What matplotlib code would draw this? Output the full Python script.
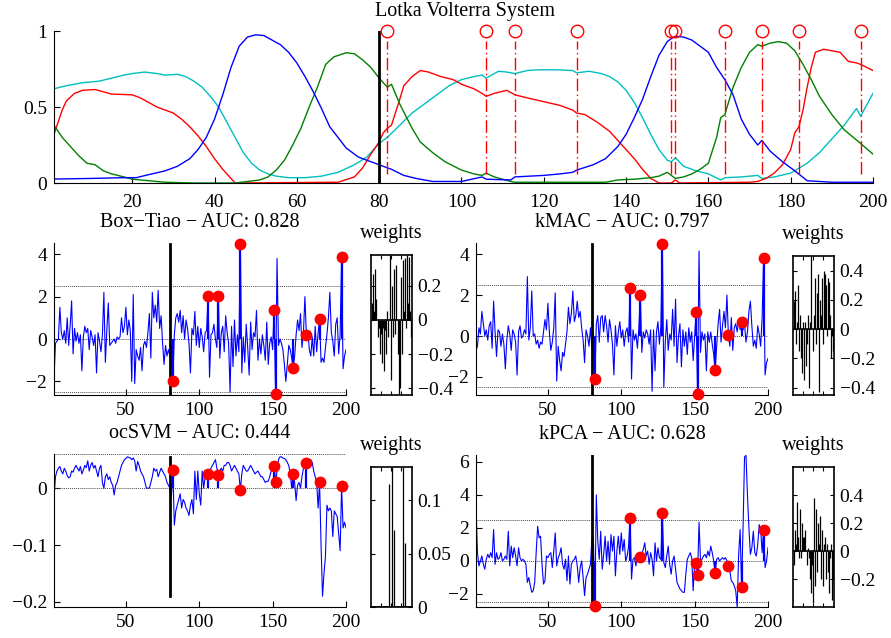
import numpy as np
import matplotlib
matplotlib.use('Agg')
import matplotlib.pyplot as plt
from matplotlib.ticker import FuncFormatter

plt.rcParams['font.family'] = ['Liberation Serif', 'DejaVu Serif']
plt.rcParams['font.size'] = 14

# --- Lotka Volterra system (knots) ---
blue_x = [1, 10, 18, 21, 24, 28, 31, 34, 36, 38, 40, 42, 44, 46, 48, 50, 52, 54, 56, 58, 60, 62, 64, 66, 68,
          70, 72, 75, 78, 80, 83, 86, 89, 93, 100, 105, 106, 112, 113, 120, 124, 127, 128, 132, 135, 138, 140,
          142, 144, 146, 148, 150, 151, 152, 154, 156, 158, 160, 162, 164, 166, 168, 170, 172, 173, 175, 178,
          181, 184, 190, 200]
blue_y = [0.026, 0.03, 0.035, 0.035, 0.055, 0.08, 0.11, 0.16, 0.22, 0.30, 0.42, 0.58, 0.76, 0.90, 0.96, 0.975,
          0.97, 0.94, 0.91, 0.86, 0.79, 0.70, 0.60, 0.49, 0.37, 0.30, 0.23, 0.17, 0.14, 0.12, 0.09, 0.05, 0.03,
          0.01, 0.01, 0.04, 0.025, 0.02, 0.04, 0.05, 0.06, 0.07, 0.085, 0.12, 0.16, 0.24, 0.32, 0.43, 0.55, 0.70,
          0.84, 0.93, 0.95, 0.965, 0.96, 0.94, 0.90, 0.86, 0.76, 0.68, 0.58, 0.42, 0.32, 0.25, 0.28, 0.21, 0.14,
          0.08, 0.015, 0.005, 0.005]

green_x = [1, 3, 5, 7, 9, 11, 13, 15, 18, 20, 24, 28, 35, 45, 48, 51, 53, 55, 57, 59, 61, 63, 65, 67, 69, 72,
           74, 76, 78, 80, 81, 82, 83, 85, 88, 90, 93, 96, 100, 103, 105, 106, 108, 112, 113, 120, 135, 138, 142,
           146, 148, 150, 152, 154, 156, 158, 160, 162, 163, 164, 166, 168, 170, 172, 173, 175, 177, 179, 181,
           183, 185, 187, 190, 193, 197, 200]
green_y = [0.38, 0.30, 0.24, 0.18, 0.13, 0.12, 0.08, 0.06, 0.04, 0.025, 0.015, 0.005, 0.0, 0.0, 0.01, 0.02,
           0.04, 0.085, 0.15, 0.25, 0.36, 0.50, 0.63, 0.78, 0.83, 0.857, 0.85, 0.81, 0.76, 0.69, 0.66, 0.63, 0.65,
           0.52, 0.36, 0.27, 0.20, 0.14, 0.085, 0.06, 0.05, 0.065, 0.04, 0.01, 0.005, 0.005, 0.005, 0.02, 0.025,
           0.035, 0.045, 0.07, 0.03, 0.04, 0.06, 0.09, 0.13, 0.30, 0.43, 0.45, 0.63, 0.76, 0.86, 0.91, 0.90, 0.92,
           0.93, 0.92, 0.87, 0.78, 0.68, 0.57, 0.45, 0.35, 0.26, 0.19]

red_x = [1, 2, 3, 4, 6, 8, 11, 13, 15, 20, 22, 24, 26, 28, 30, 32, 34, 36, 38, 40, 42, 44, 45, 70, 74, 76, 78,
         80, 81, 82, 83, 85, 86, 88, 90, 92, 95, 98, 100, 103, 105, 106, 108, 111, 113, 116, 120, 124, 127, 128,
         130, 133, 136, 138, 140, 142, 144, 146, 148, 151, 152, 153, 170, 172, 174, 176, 178, 180, 181, 182, 183,
         184, 185, 186, 188, 190, 192, 194, 196, 197, 200]
red_y = [0.32, 0.40, 0.48, 0.54, 0.59, 0.61, 0.615, 0.60, 0.585, 0.58, 0.56, 0.53, 0.50, 0.48, 0.46, 0.42, 0.37,
         0.31, 0.24, 0.16, 0.09, 0.03, 0.0, 0.005, 0.04, 0.10, 0.19, 0.27, 0.33, 0.36, 0.38, 0.55, 0.64, 0.70,
         0.74, 0.73, 0.70, 0.68, 0.65, 0.62, 0.59, 0.57, 0.59, 0.61, 0.58, 0.56, 0.535, 0.51, 0.48, 0.46, 0.45,
         0.40, 0.34, 0.28, 0.22, 0.16, 0.09, 0.03, 0.0, 0.0, 0.02, 0.0, 0.005, 0.01, 0.03, 0.065, 0.12, 0.22,
         0.33, 0.37, 0.48, 0.63, 0.76, 0.86, 0.88, 0.87, 0.86, 0.80, 0.79, 0.78, 0.74]

cyan_x = [1, 4, 8, 12, 15, 18, 20, 23, 26, 28, 31, 33, 35, 37, 39, 41, 43, 45, 47, 49, 51, 53, 55, 58, 62, 66,
          70, 74, 77, 80, 82, 85, 88, 91, 94, 97, 100, 103, 105, 106, 109, 111, 113, 116, 119, 123, 127, 128,
          131, 134, 136, 138, 140, 142, 144, 146, 148, 150, 151, 152, 154, 157, 160, 163, 164, 168, 172, 173,
          176, 180, 184, 187, 190, 193, 196, 197, 200]
cyan_y = [0.62, 0.64, 0.66, 0.67, 0.69, 0.71, 0.72, 0.73, 0.72, 0.71, 0.715, 0.70, 0.67, 0.63, 0.57, 0.50, 0.40,
          0.30, 0.20, 0.13, 0.085, 0.06, 0.045, 0.035, 0.035, 0.045, 0.07, 0.12, 0.17, 0.26, 0.30, 0.38, 0.46,
          0.52, 0.58, 0.64, 0.68, 0.70, 0.71, 0.69, 0.735, 0.73, 0.72, 0.74, 0.745, 0.745, 0.74, 0.725, 0.735,
          0.72, 0.70, 0.665, 0.61, 0.53, 0.43, 0.32, 0.22, 0.15, 0.14, 0.165, 0.11, 0.08, 0.06, 0.02, 0.035,
          0.04, 0.05, 0.03, 0.04, 0.065, 0.13, 0.20, 0.29, 0.38, 0.49, 0.44, 0.59]

anomalies = [82, 106, 113, 128, 151, 152, 164, 173, 182, 197]
split = 80

# --- anomaly scores, one value per time step 1..200 ---
boxtiao = [-1.9, -0.2, -0.1, 0.0, 1.5, 0.3, 0.0, 0.4, -0.2, 1.0,
           -0.3, 0.6, 1.8, -0.7, 0.5, -0.1, 0.3, -0.2, 0.2, -1.5,
           0.1, 0.6, 0.3, 0.5, -0.5, 0.4, 0.1, -0.3, 0.2, -1.6,
           0.3, -0.1, -0.6, 0.2, 2.2, -1.1, 0.4, 1.7, -0.3, -0.2,
           -0.1, 0.0, -0.2, 0.1, 0.0, 0.1, 1.0, 0.3, 0.6, 1.5,
           0.2, 0.9, 0.4, -2.0, 2.1, -2.1, -0.5, -0.8, -1.0, -0.4,
           -1.5, -0.3, -0.1, -0.4, 0.3, 1.2, -0.9, 2.2, 1.0, 1.6,
           0.8, 2.3, 0.5, 1.1, -0.2, -1.2, -0.3, -0.8, -0.5, -0.8,
           -0.3, -1.96, 0.2, 1.0, 1.2, 0.8, 1.35, 0.3, 1.1, 0.0,
           0.9, 0.5, -0.2, -1.6, 0.5, 0.2, 1.3, -0.3, 0.6, -0.4,
           0.5, 0.1, -0.6, 0.3, 0.4, 2.03, -1.8, 0.2, 0.3, 0.7,
           0.0, -0.4, 2.03, -0.9, 0.3, 0.6, -0.6, 1.1, 0.3, -0.2,
           -2.5, 0.6, -1.3, 0.9, -0.8, 0.2, -0.6, 4.5, -1.6, 0.1,
           -1.1, 0.7, -0.4, -1.7, 0.8, -0.5, 0.3, 0.1, 1.35, -1.0,
           0.0, -0.7, 0.2, -0.3, -1.0, 0.8, -1.2, -0.2, 0.1, -0.5,
           1.37, -2.6, 3.8, -0.3, 0.0, -0.2, -0.5, -1.2, -2.0, -1.2,
           -0.3, -0.5, -0.9, -1.35, -0.8, 0.2, 0.9, 0.4, 1.2, -0.4,
           0.3, 2.0, 0.2, 0.4, -0.5, -0.8, 0.1, -0.8, 0.6, -0.6,
           0.3, 0.95, -1.1, -0.9, -1.1, -0.4, 0.2, 1.0, 2.2, 0.3,
           -0.1, -0.8, 0.7, 1.0, -0.7, 0.2, 3.85, -1.4, -0.8, -0.5]

kmac = [-0.7, -0.5, 0.4, 0.1, 1.2, 0.6, 0.0, 0.3, -0.2, 0.5,
        0.7, -0.6, 1.7, 0.2, -1.0, 0.3, 0.2, -0.5, 0.1, -0.4,
        -1.6, -0.2, 0.5, 0.1, -0.7, 0.3, 0.1, -0.3, -1.9, 0.2,
        0.5, -0.1, 0.0, 0.3, 0.1, 2.9, -0.2, 0.4, 2.2, 0.0,
        0.1, -0.4, -0.2, -0.6, -0.3, -0.4, 0.2, 0.8, 0.3, 1.6,
        0.2, -0.7, -0.3, 0.4, 2.1, -2.2, -0.5, -1.2, -1.7, -0.8,
        -1.0, -0.4, 0.2, 1.4, 0.6, 1.1, 2.2, 0.7, 1.0, 1.7,
        0.9, 1.2, 0.4, -0.2, -1.3, 0.3, 0.0, -0.5, 0.4, -0.6,
        0.2, -2.1, 0.6, 1.0, -0.3, 0.9, 1.0, 0.2, 1.0, 0.5,
        -0.3, 0.8, 0.3, -0.4, -1.9, 0.5, -0.5, 0.2, 0.7, -0.1,
        0.3, -0.5, 0.2, 0.4, -0.3, 2.35, -2.1, 0.3, -0.2, 0.1,
        -0.6, 0.4, 2.0, -0.8, 0.2, -0.1, 0.3, 0.1, -0.4, 0.3,
        -2.7, 0.3, -1.7, 0.2, 0.7, -0.4, 0.5, 4.5, -2.5, -0.3,
        0.8, -0.7, 0.1, -0.2, 1.3, -0.5, 1.8, -1.3, 0.0, 0.6,
        -1.5, 0.3, -0.5, 0.2, -0.9, 0.4, -0.3, 0.2, -1.2, 0.0,
        1.15, -2.85, 4.15, -0.8, 0.2, -0.2, 0.1, -1.7, 0.2, -0.3,
        0.2, -0.4, -0.9, -1.65, -0.5, 0.6, 1.3, -0.3, 0.5, 1.2,
        0.4, 2.0, 0.05, -0.5, 0.9, -0.7, 0.4, 0.6, 0.2, 0.8,
        0.3, 0.7, 0.3, 0.6, -0.3, 0.2, 1.2, 1.7, 0.5, -0.5,
        -0.2, -0.6, 0.5, 0.1, -0.5, 0.9, 3.8, -1.9, -1.3, -1.1]

ocsvm = [-0.018, 0.02, 0.03, 0.035, 0.038, 0.03, 0.025, 0.035, 0.03, 0.022,
         0.018, 0.02, 0.03, 0.028, 0.035, 0.04, 0.035, 0.03, 0.038, 0.025,
         0.032, 0.04, 0.036, 0.048, 0.03, 0.04, 0.045, 0.035, 0.04, 0.03,
         0.02, 0.035, 0.04, 0.01, 0.0, 0.02, 0.025, 0.015, 0.02, 0.01,
         0.005, -0.012, 0.005, 0.01, 0.02, 0.03, 0.04, 0.045, 0.05, 0.052,
         0.055, 0.054, 0.053, 0.05, 0.053, 0.048, 0.03, 0.047, 0.04, 0.03,
         0.025, 0.02, 0.01, 0.0, 0.0, 0.0, 0.01, 0.02, 0.035, 0.03,
         0.033, 0.02, 0.028, 0.035, 0.03, 0.025, 0.02, 0.01, 0.005, 0.0,
         -0.015, 0.032, -0.065, -0.04, -0.03, -0.02, -0.01, -0.035, -0.02, -0.025,
         -0.035, -0.04, -0.048, -0.03, -0.02, -0.045, 0.03, -0.02, 0.03, -0.01,
         -0.03, 0.03, 0.0, 0.02, 0.03, 0.025, 0.03, 0.035, 0.04, 0.045,
         0.05, 0.035, 0.023, 0.03, 0.035, 0.03, 0.04, 0.04, 0.045, 0.045,
         0.04, 0.03, 0.035, 0.04, 0.035, 0.03, 0.025, -0.003, 0.025, 0.04,
         0.035, 0.03, 0.03, 0.035, 0.04, 0.035, 0.03, 0.025, 0.028, 0.03,
         0.025, 0.02, 0.02, 0.015, 0.01, 0.012, 0.012, 0.02, 0.03, 0.04,
         0.039, 0.011, 0.03, 0.05, 0.055, 0.055, 0.053, 0.052, 0.05, 0.045,
         0.04, 0.025, 0.0, 0.025, 0.01, -0.022, 0.005, 0.01, 0.0, 0.02,
         0.035, 0.04, 0.044, 0.045, 0.05, 0.05, 0.045, 0.03, 0.02, 0.01,
         -0.035, 0.01, -0.1, -0.19, -0.15, -0.12, -0.03, -0.04, -0.035, -0.04,
         -0.085, -0.04, -0.045, -0.05, -0.08, -0.11, 0.003, -0.07, -0.06, -0.07]

kpca = [3.3, 0.5, -0.3, 0.0, 0.3, -0.2, -0.5, 0.1, 0.4, 0.2,
        0.5, 0.2, 1.9, -0.2, 0.5, 0.1, 0.2, 0.5, 0.0, 0.1,
        0.3, 0.1, 1.8, -0.3, 0.9, 0.2, 0.8, 0.3, -0.3, 0.8,
        0.2, 0.0, 0.1, 0.0, -0.2, -1.3, -1.0, -1.5, -1.9, -1.8,
        -1.3, 0.5, 2.1, 1.4, 1.5, -0.2, -1.4, -1.2, 0.3, 0.2,
        0.4, 0.5, -0.4, 0.6, 1.7, -0.3, 0.2, 0.4, 0.8, -0.2,
        -0.5, 0.1, -1.2, 0.3, -1.4, -0.2, 0.0, 0.1, 0.3, -0.3,
        -1.3, -0.4, 0.0, -1.0, -2.1, -1.0, -0.8, -0.5, -0.2, 1.4,
        1.4, -2.75, 4.0, 1.2, 0.1, 1.8, -0.5, 0.4, 1.5, 0.0,
        1.2, -0.2, 1.6, 0.6, 1.5, -0.9, 0.6, 1.5, 0.4, 1.7,
        0.6, 1.3, 0.0, 0.3, 0.9, 2.6, -1.1, 0.1, 0.2, -0.3,
        0.4, 0.0, 0.25, 0.4, 0.7, 1.1, 0.3, 0.6, -0.2, 0.5,
        0.1, -0.9, 1.1, 0.0, 0.8, 0.2, 0.1, 2.9, -0.1, -0.4,
        0.3, 0.9, -0.2, -0.8, 0.0, 0.3, -0.5, -1.3, -1.5, -1.7,
        -1.8, -1.9, -1.9, -0.8, 0.1, 0.3, 0.5, 0.2, -1.8, -0.2,
        -0.15, -0.85, 2.35, 0.0, 0.1, 0.3, 0.4, 0.2, 0.6, 0.3,
        0.9, 0.5, 0.0, -0.75, 0.1, 0.2, 0.0, 0.1, 0.2, 0.1,
        0.2, 0.0, -0.32, -0.6, -1.2, -1.3, -1.5, -1.8, -2.8, 0.4,
        1.9, -1.55, 2.0, 6.3, 6.4, 4.0, 2.0, 0.4, 0.8, 1.8,
        0.5, 0.3, 1.0, 2.2, 1.9, 0.5, 1.9, -0.4, 0.0, 0.8]

# --- weight vectors (bar heights) ---
w_boxtiao = [0.10, 0.27, 0.05, 0.30, 0.12, 0.00, -0.10, -0.05, -0.20, -0.08, -0.25, -0.05, -0.30, -0.06,
             -0.20, 0.05, -0.10, 0.00, 0.38, -0.35, 0.20, -0.10, 0.30, -0.08, 0.32, 0.00, -0.20, -0.44,
             -0.40, 0.25, -0.20, 0.35, 0.05, 0.36, -0.05, 0.38, 0.10, 0.37, 0.05, -0.10]
w_kmac = [0.19, 0.26, -0.10, 0.05, 0.30, -0.15, 0.10, -0.20, -0.30, 0.05, -0.35, 0.05, -0.25, -0.10, 0.10,
          -0.40, 0.05, 0.50, 0.00, -0.15, 0.10, 0.35, -0.10, 0.25, 0.38, -0.43, 0.20, 0.10, 0.35, -0.10,
          0.40, 0.38, 0.30, -0.05, 0.35, 0.32, 0.10, -0.20, -0.05, -0.15]
w_ocsvm = [0, 0, 0, 0, 0, 0, 0, 0, 0, 0, 0, 0, 0, 0, 0, 0, 0, 0.115, 0, 0,
           0.131, 0, 0.072, 0, 0, 0, 0, 0, 0, 0, 0, 0.131, 0, 0.06, 0, 0, 0, 0, 0, 0]
w_kpca = [-0.10, 0.15, 0.05, 0.35, 0.10, -0.05, 0.30, -0.05, 0.20, 0.10, 0.10, 0.15, 0.00, -0.10, 0.02,
          -0.05, -0.20, -0.30, -0.10, -0.37, 0.38, -0.25, 0.30, -0.15, 0.20, 0.05, 0.25, -0.20, 0.15,
          -0.25, 0.05, 0.10, -0.20, 0.05, -0.15, -0.30, -0.05, 0.05, -0.35, -0.20]

W, H = 891, 638
fig = plt.figure(figsize=(W / 100, H / 100), dpi=100)
fmt = FuncFormatter(lambda v, p: f'{v:g}'.replace('-', '\u2212'))


def rect(left, top, right, bottom):
    # pixel box -> figure fraction
    return [left / W, 1 - bottom / H, (right - left) / W, (bottom - top) / H]


def style(ax, xpad=5):
    ax.spines['top'].set_visible(False)
    ax.spines['right'].set_visible(False)
    ax.tick_params(direction='in', length=4, width=0.8, labelsize=14, pad=5)
    ax.tick_params(axis='x', pad=xpad)
    ax.yaxis.set_major_formatter(fmt)


# top panel
ax = fig.add_axes(rect(54, 31, 873, 183))
ax.plot(cyan_x, cyan_y, color=(0, 0.75, 0.75), lw=1)
ax.plot(red_x, red_y, color='r', lw=1)
ax.plot(green_x, green_y, color=(0, 0.5, 0), lw=1)
ax.plot(blue_x, blue_y, color='b', lw=1)
ax.plot([split, split], [0, 1], color='k', lw=2)
for a in anomalies:
    ax.plot([a, a], [0.06, 0.935], color='r', lw=1, dashes=(9, 2.5, 1, 2.5))
ax.plot(anomalies, [1] * len(anomalies), 'o', mfc='none', mec='r', ms=9, mew=1, clip_on=False)
ax.set_xlim(1, 200)
ax.set_ylim(0, 1)
ax.set_xticks(range(20, 201, 20))
ax.set_yticks([0, 0.5, 1])
style(ax, xpad=8)
fig.text(465 / W, 1 - 16 / H, 'Lotka Volterra System', ha='center', va='baseline', fontsize=14.5)

t = np.arange(1, 201)
anom = np.array(anomalies)


def score_panel(box, vals, ylim, yticks, title, lines):
    vals = np.array(vals)
    ax = fig.add_axes(rect(*box))
    for y in lines:
        ax.axhline(y, color='0.3', lw=0.7, ls=(0, (1, 1)))
    ax.plot(t, vals, color='b', lw=0.8)
    ax.plot([split, split], [vals.min(), vals.max()], color='k', lw=2)
    av = vals[anom - 1]
    ax.vlines(anom, 0, av, color='b', lw=1.6)
    ax.plot(anom, av, 'o', color='r', ms=7.5, clip_on=False, zorder=5)
    ax.set_xlim(1, 200)
    ax.set_ylim(*ylim)
    ax.set_xticks([50, 100, 150, 200])
    ax.set_yticks(yticks)
    style(ax)
    fig.text((box[0] + box[2]) / 2 / W, 1 - (box[1] - 16) / H, title, ha='center', va='baseline',
             fontsize=14.5)


def weight_panel(box, w, ylim, yticks):
    ax = fig.add_axes(rect(*box))
    ax.bar(np.arange(1, len(w) + 1), w, width=0.9, color='k', edgecolor='k', lw=0.9)
    ax.axhline(0, color='k', lw=1.2)
    ax.set_xlim(0, len(w) + 1)
    ax.set_ylim(*ylim)
    ax.set_xticks([10, 20, 30])
    ax.set_yticks(yticks)
    ax.yaxis.set_major_formatter(fmt)
    ax.tick_params(direction='in', length=3, width=0.8, labelsize=14, pad=4,
                   left=True, right=True, top=True, bottom=True,
                   labelleft=False, labelright=True, labelbottom=False)
    for s in ax.spines.values():
        s.set_linewidth(1.2)
    fig.text((box[0] + box[2]) / 2 / W, 1 - (box[1] - 17) / H, 'weights', ha='center', va='baseline',
             fontsize=14.5)


score_panel((54, 243, 346, 395), boxtiao, (-2.64, 4.53), [-2, 0, 2, 4],
            'Box\u2212Tiao \u2212 AUC: 0.828', [-2.5, 0, 2.5])
weight_panel((371, 255, 412, 395), w_boxtiao, (-0.44, 0.38), [-0.4, -0.2, 0, 0.2])

score_panel((476, 243, 768, 395), kmac, (-2.88, 4.54), [-2, 0, 2, 4],
            'kMAC \u2212 AUC: 0.797', [-2.5, 0, 2.5])
weight_panel((793, 256, 834, 395), w_kmac, (-0.45, 0.5), [-0.4, -0.2, 0, 0.2, 0.4])

score_panel((54, 454, 346, 607), ocsvm, (-0.209, 0.06), [-0.2, -0.1, 0],
            'ocSVM \u2212 AUC: 0.444', [0, 0.06])
weight_panel((371, 467, 412, 607), w_ocsvm, (0, 0.131), [0, 0.05, 0.1])

score_panel((476, 455, 768, 607), kpca, (-2.79, 6.42), [-2, 0, 2, 4, 6],
            'kPCA \u2212 AUC: 0.628', [-2.5, 0, 2.5])
weight_panel((793, 467, 834, 607), w_kpca, (-0.4, 0.6), [-0.2, 0, 0.2, 0.4])

fig.savefig('out.png', dpi=100)
